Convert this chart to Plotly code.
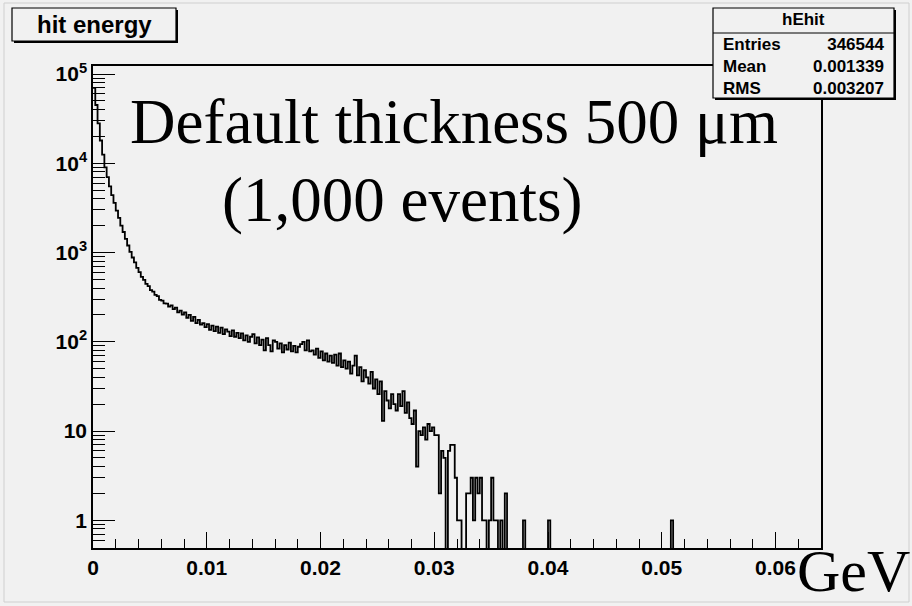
import numpy as np
import plotly.graph_objects as go

# ---------------- data ----------------
BIN_WIDTH = 0.0002  # GeV
counts = [
    70000, 45000, 28000, 18000, 12500, 9000, 7000, 5500, 4400, 3600, 2950, 2450, 2000, 1700, 1420, 1200,
    1020, 880, 775, 675, 605, 535, 495, 445, 420, 380, 365, 335, 325, 295, 290, 270,
    268, 248, 256, 232, 242, 214, 224, 202, 214, 186, 200, 172, 190, 162, 176, 156,
    162, 146, 158, 136, 152, 132, 148, 126, 144, 122, 138, 130, 116, 134, 114, 126,
    110, 124, 104, 118, 100, 114, 122, 96, 112, 92, 106, 80, 110, 92, 78, 104,
    100, 84, 96, 76, 92, 82, 98, 78, 90, 76, 88, 94, 100, 80, 104, 78,
    80, 72, 84, 66, 78, 62, 74, 60, 70, 58, 72, 54, 74, 52, 62, 50,
    60, 44, 54, 70, 42, 52, 36, 48, 40, 34, 46, 30, 38, 26, 36, 13,
    28, 22, 18, 26, 20, 17, 26, 19, 28, 16, 21, 14, 12, 17, 4, 10,
    9, 11, 8, 12, 10, 11, 9, 9, 2, 6, 5, 0, 6, 7, 7, 3,
    1, 1, 0, 0, 2, 2, 3, 1, 3, 2, 3, 1, 1, 0, 1, 3,
    1, 1, 0, 1, 0, 2, 0, 0, 0, 0, 0, 0, 0, 1, 0, 0,
    0, 0, 0, 0, 0, 0, 0, 0, 1, 0, 0, 0, 0, 0, 0, 0,
    0, 0, 0, 0, 0, 0, 0, 0, 0, 0, 0, 0, 0, 0, 0, 0,
    0, 0, 0, 0, 0, 0, 0, 0, 0, 0, 0, 0, 0, 0, 0, 0,
    0, 0, 0, 0, 0, 0, 0, 0, 0, 0, 0, 0, 0, 0, 1, 0,
    0, 0, 0, 0, 0, 0, 0, 0, 0, 0, 0, 0, 0, 0, 0, 0,
    0, 0, 0, 0, 0, 0, 0, 0, 0, 0, 0, 0, 0, 0, 0, 0,
    0, 0, 0, 0, 0, 0, 0, 0, 0, 0, 0, 0, 0, 0, 0, 0,
    0, 0, 0, 0, 0, 0, 0, 0, 0, 0, 0, 0, 0, 0, 0, 0,
]
x_tick_vals = [0, 0.01, 0.02, 0.03, 0.04, 0.05, 0.06]
x_tick_text = ["0", "0.01", "0.02", "0.03", "0.04", "0.05", "0.06"]
y_tick_vals = [1, 10, 100, 1000, 10000, 100000]
y_tick_text = ["1", "10", "10<sup>2</sup>", "10<sup>3</sup>", "10<sup>4</sup>", "10<sup>5</sup>"]
hist_name = "hEhit"
title_text = "hit energy"
stats_labels = ["Entries", "Mean", "RMS"]
stats_values = ["346544", "0.001339", "0.003207"]
overlay_line1 = "Default thickness 500 \u03bcm"
overlay_line2 = "(1,000 events)"
unit_text = "GeV"

# ---------------- layout geometry ----------------
W, H = 912, 606
L, R, T, B = 93, 91, 66, 58
PW, PH = W - L - R, H - T - B
BG = "#f1f1f1"


def px(x):
    return (x - L) / PW


def py(y):
    return (H - B - y) / PH


counts_arr = np.array(counts, dtype=float)
n = len(counts_arr)
edges = np.arange(n + 1) * BIN_WIDTH
# zero bins are drawn down below the axis floor (as ROOT does on log axes)
disp = np.where(counts_arr > 0, counts_arr, 0.05)
xs = list(edges[:-1]) + [edges[-1]]
ys = list(disp) + [disp[-1]]

fig = go.Figure()
fig.add_trace(go.Scatter(
    x=xs, y=ys, mode="lines", line=dict(color="black", width=1.8, shape="hv"),
    hoverinfo="skip", showlegend=False,
))

minor_y = [m * 10 ** k for k in range(-1, 6) for m in range(2, 10)]

sans = "Liberation Sans, Arial, sans-serif"
serif = "Liberation Serif, Times New Roman, serif"
tickfont = dict(family=sans, size=21, color="black", weight="bold")

fig.update_layout(
    width=W, height=H,
    margin=dict(l=L, r=R, t=T, b=B, pad=0),
    paper_bgcolor=BG, plot_bgcolor=BG,
    showlegend=False,
    xaxis=dict(
        range=[0, 0.064], showgrid=False, zeroline=False,
        showline=True, linecolor="black", linewidth=1.5, mirror=True,
        ticks="inside", ticklen=16, tickwidth=1.2, tickcolor="black",
        tickvals=x_tick_vals, ticktext=x_tick_text, tickfont=tickfont,
        minor=dict(ticks="inside", ticklen=9, tickwidth=1.2, tickcolor="black", dtick=0.002),
    ),
    yaxis=dict(
        type="log", range=[-0.31, 5.09], showgrid=False, zeroline=False,
        showline=True, linecolor="black", linewidth=1.5, mirror=True,
        ticks="inside", ticklen=22, tickwidth=1.2, tickcolor="black",
        tickvals=y_tick_vals, ticktext=y_tick_text, tickfont=tickfont,
        minor=dict(ticks="inside", ticklen=12, tickwidth=1.2, tickcolor="black", tickvals=minor_y),
    ),
)

shapes = []
annotations = []


def rect(x0, y0, x1, y1, fill, line_w=1.0):
    shapes.append(dict(type="rect", xref="paper", yref="paper",
                       x0=px(x0), x1=px(x1), y0=py(y1), y1=py(y0),
                       fillcolor=fill, line=dict(color="black", width=line_w), layer="above"))


def text(x, y, s, size, family, xanchor="center", yanchor="middle", weight="normal", align="center"):
    annotations.append(dict(xref="paper", yref="paper", x=px(x), y=py(y), text=s,
                            showarrow=False, xanchor=xanchor, yanchor=yanchor, align=align,
                            font=dict(family=family, size=size, color="black", weight=weight)))


# outer canvas border
shapes.append(dict(type="rect", xref="paper", yref="paper",
                   x0=px(4), x1=px(909), y0=py(602), y1=py(3),
                   line=dict(color="#cfcfcf", width=1), layer="below"))

# title pave with shadow
rect(14, 10, 178, 43, "black", 0)
rect(12, 8, 176, 41, BG, 1.2)
text(94, 24, title_text, 24, sans, weight="bold")

# stats box with shadow
rect(715, 10, 896, 100, "black", 0)
rect(713, 8, 894, 98, BG, 1.2)
shapes.append(dict(type="line", xref="paper", yref="paper", x0=px(713), x1=px(894),
                   y0=py(33), y1=py(33), line=dict(color="black", width=1), layer="above"))
text(803, 20, hist_name, 17, sans, weight="bold")
text(721, 66, "<br>".join(stats_labels), 17, sans, xanchor="left", weight="bold", align="left")
text(886, 66, "<br>".join(stats_values), 17, sans, xanchor="right", weight="bold", align="right")

text(454, 122, overlay_line1, 63, serif)
text(402, 200, overlay_line2, 63, serif)
text(853, 606, unit_text, 60, serif, yanchor="bottom")

fig.update_layout(shapes=shapes, annotations=annotations)
fig.write_html(
    "out.html",
    config={"displayModeBar": False},
    post_script="document.body.style.margin='0';document.body.style.overflow='hidden';",
)
